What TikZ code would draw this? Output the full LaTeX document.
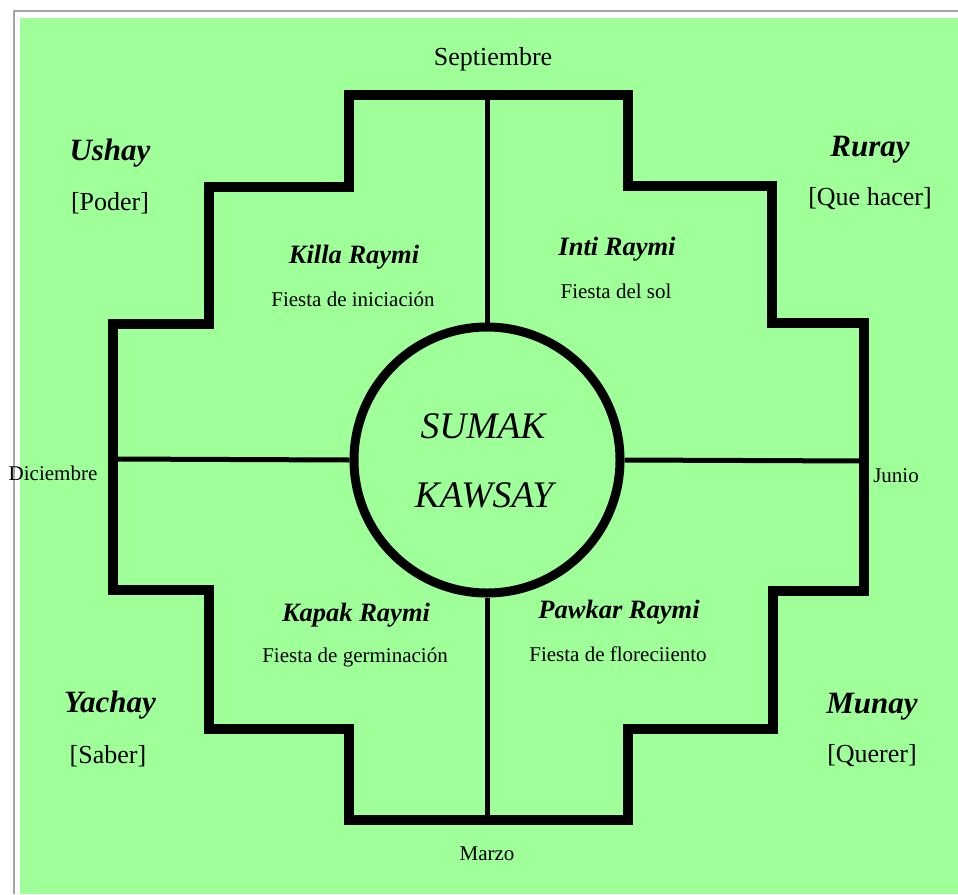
\documentclass[tikz,border=0pt]{standalone}
\usepackage{fontspec}
\setmainfont{Liberation Serif}
\definecolor{bggreen}{RGB}{159,255,153}
\definecolor{framegray}{RGB}{165,165,165}
\begin{document}
\begin{tikzpicture}[x=1pt,y=-1pt,
  thickline/.style={line width=9.5pt,line join=miter},
  thinline/.style={line width=5pt},
  lbl/.style={inner sep=0pt,font=\fontsize{21}{25}\selectfont},
  month/.style={inner sep=0pt,font=\fontsize{21}{25}\selectfont},
  septlbl/.style={inner sep=0pt,font=\fontsize{26}{30}\selectfont},
  dim/.style={inner sep=0pt,font=\fontsize{31}{36}\selectfont\bfseries\itshape},
  dimsub/.style={inner sep=0pt,font=\fontsize{26}{30}\selectfont},
  fiesta/.style={inner sep=0pt,font=\fontsize{26.5}{30}\selectfont\bfseries\itshape},
  centertxt/.style={inner sep=0pt,font=\fontsize{37.5}{42}\selectfont\itshape}]
\useasboundingbox (0,0) rectangle (958,894);
\fill[white] (0,0) rectangle (958,894);
\draw[framegray,line width=2pt] (14,894) -- (14,11) -- (958,11);
\fill[bggreen] (20,18) rectangle (958,894);
% stepped cross
\draw[thickline] (349,95) -- (628,95) -- (628,186) -- (772,186) -- (772,323) -- (864,323)
  -- (864,591) -- (773,591) -- (773,729) -- (628,729) -- (628,820) -- (349,820)
  -- (349,729) -- (209,729) -- (209,590) -- (113,590) -- (113,324) -- (209,324)
  -- (209,187) -- (349,187) -- cycle;
% circle
\node[circle,draw,line width=9pt,minimum size=266pt,inner sep=0pt] (c) at (487,460) {};
\coordinate (topc) at (487,95);
\coordinate (botc) at (487,820);
\coordinate (leftc) at (113,459);
\coordinate (rightc) at (864,461);
\draw[thinline] (topc) -- (c.north);
\draw[thinline] (c.south) -- (botc);
\draw[thinline] (leftc) -- (c.west);
\draw[thinline] (c.east) -- (rightc);
% center text
\node[centertxt] (sumak) at (483,426) {SUMAK};
\node[centertxt] (kawsay) at (484,495) {KAWSAY};
% months
\node[septlbl] (sep) at (493,59) {Septiembre};
\node[month] (dic) at (53,473) {Diciembre};
\node[month] (jun) at (896,476) {Junio};
\node[month] (mar) at (487,854) {Marzo};
% dimensions
\node[dim] (ushay) at (110,153) {Ushay};
\node[dimsub] (poder) at (110,203) {[Poder]};
\node[dim] (ruray) at (870,150) {Ruray};
\node[dimsub] (quehacer) at (870,199) {[Que hacer]};
\node[dim] (yachay) at (110,705) {Yachay};
\node[dimsub] (saber) at (108,756) {[Saber]};
\node[dim] (munay) at (872,707) {Munay};
\node[dimsub] (querer) at (872,756) {[Querer]};
% fiestas
\node[fiesta] (killa) at (354,257) {Killa Raymi};
\node[lbl] (killasub) at (353,299) {Fiesta de iniciación};
\node[fiesta] (inti) at (617,249) {Inti Raymi};
\node[lbl] (intisub) at (616,291) {Fiesta del sol};
\node[fiesta] (kapak) at (356,615) {Kapak Raymi};
\node[lbl] (kapaksub) at (355,657) {Fiesta de germinación};
\node[fiesta] (pawkar) at (619,612) {Pawkar Raymi};
\node[lbl] (pawkarsub) at (618,654) {Fiesta de floreciiento};
\end{tikzpicture}
\end{document}
